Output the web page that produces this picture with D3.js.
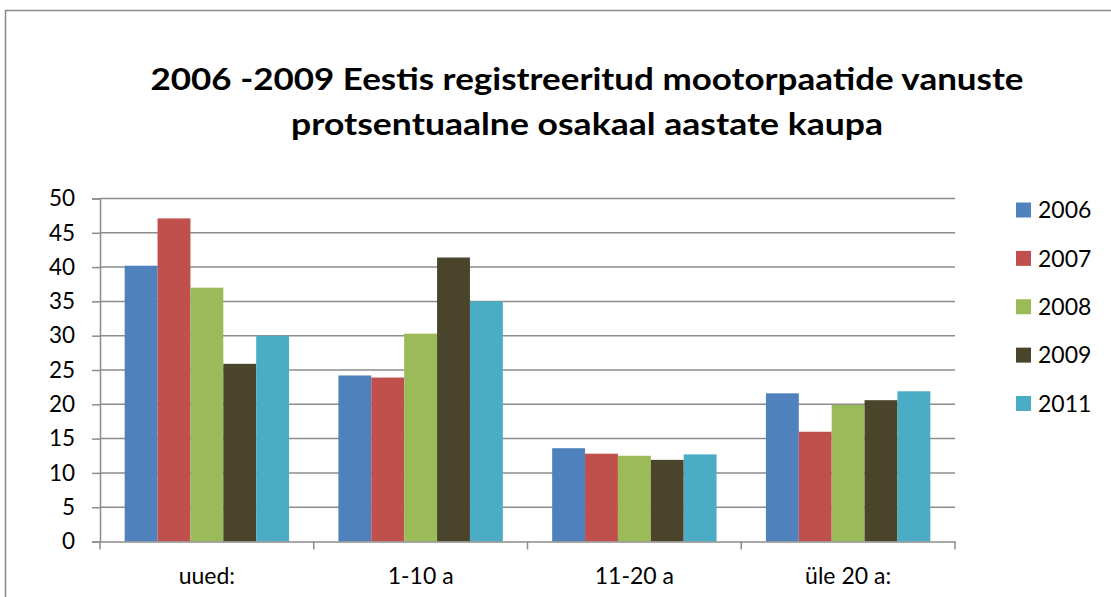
<!DOCTYPE html>
<html><head><meta charset="utf-8">
<script src="https://cdn.jsdelivr.net/npm/d3@7"></script>
<style>
html,body{margin:0;padding:0;background:#fff;}
svg{display:block;}
text{font-family:Lato,"Open Sans",sans-serif;fill:#000;}
</style></head>
<body>
<svg id="chart" width="1111" height="597"></svg>
<script>
const categories = ["uued:", "1-10 a", "11-20 a", "üle 20 a:"];
const seriesNames = ["2006", "2007", "2008", "2009", "2011"];
const values2006 = [40.2, 24.2, 13.6, 21.6];
const values2007 = [47.1, 23.9, 12.8, 16.0];
const values2008 = [37.0, 30.3, 12.5, 19.9];
const values2009 = [25.9, 41.4, 11.9, 20.6];
const values2011 = [30.0, 35.0, 12.7, 21.9];
const yTicks = [0, 5, 10, 15, 20, 25, 30, 35, 40, 45, 50];
const colors = ["#4F81BD", "#C0504D", "#9BBB59", "#4A452A", "#4BACC6"];
const titleLines = ["2006 -2009 Eestis registreeritud mootorpaatide vanuste", "protsentuaalne osakaal aastate kaupa"];

const seriesValues = [values2006, values2007, values2008, values2009, values2011];

const svg = d3.select("#chart");
const plotLeft = 100, plotRight = 955, plotTop = 198.5, plotBottom = 541.5;

// outer frame
svg.append("rect").attr("x", 5.5).attr("y", 10.5).attr("width", 1200).attr("height", 700)
  .attr("fill", "none").attr("stroke", "#888").attr("stroke-width", 1.5);

// title
svg.append("text").attr("x", 587).attr("y", 90).attr("text-anchor", "middle")
  .attr("font-size", 31).attr("font-weight", "bold")
  .attr("textLength", 873).attr("lengthAdjust", "spacingAndGlyphs").text(titleLines[0]);
svg.append("text").attr("x", 587).attr("y", 135).attr("text-anchor", "middle")
  .attr("font-size", 31).attr("font-weight", "bold")
  .attr("textLength", 592).attr("lengthAdjust", "spacingAndGlyphs").text(titleLines[1]);

const y = d3.scaleLinear().domain([0, 50]).range([plotBottom, plotTop]);
const x0 = d3.scaleBand().domain(categories).range([plotLeft, plotRight]).padding(0);
const gap = x0.bandwidth() * 1.5 / 6.5 / 2;
const x1 = d3.scaleBand().domain(seriesNames).range([gap, x0.bandwidth() - gap]).padding(0);

// gridlines
svg.append("g").selectAll("line").data(yTicks.filter(d => d > 0)).join("line")
  .attr("x1", plotLeft).attr("x2", plotRight)
  .attr("y1", d => y(d)).attr("y2", d => y(d))
  .attr("stroke", "#8c8c8c").attr("stroke-width", 1.5);

// bars
const g = svg.append("g");
categories.forEach((c, ci) => {
  seriesNames.forEach((s, si) => {
    g.append("rect")
      .attr("x", x0(c) + x1(s))
      .attr("y", y(seriesValues[si][ci]))
      .attr("width", x1.bandwidth())
      .attr("height", y(0) - y(seriesValues[si][ci]))
      .attr("fill", colors[si]);
  });
});

// y axis
const yAxis = d3.axisLeft(y).tickValues(yTicks).tickSize(8).tickPadding(17).tickFormat(d3.format("d"));
const ya = svg.append("g").attr("transform", `translate(${plotLeft},0)`).call(yAxis);
ya.selectAll("path,line").attr("stroke", "#8c8c8c").attr("stroke-width", 1.5);
ya.selectAll("text").attr("font-size", 22.5).attr("font-family", "Lato, sans-serif").attr("fill", "#000");

// x axis
const xAxis = d3.axisBottom(x0).tickSize(0).tickPadding(26);
const xa = svg.append("g").attr("transform", `translate(0,${plotBottom})`).call(xAxis);
xa.select(".domain").attr("stroke", "#8c8c8c").attr("stroke-width", 1.5);
xa.selectAll("text").attr("font-size", 23).attr("font-family", "Lato, sans-serif").attr("fill", "#000");
// category boundary ticks
const bounds = categories.map(c => x0(c)).concat([plotRight]);
xa.append("g").selectAll("line").data(bounds).join("line")
  .attr("x1", d => d).attr("x2", d => d).attr("y1", 0).attr("y2", 8)
  .attr("stroke", "#8c8c8c").attr("stroke-width", 1.5);

// legend
const ly = d3.scalePoint().domain(seriesNames).range([210, 403.5]);
const lg = svg.append("g");
seriesNames.forEach((s, i) => {
  lg.append("rect").attr("x", 1016).attr("y", ly(s) - 7.5).attr("width", 15).attr("height", 15).attr("fill", colors[i]);
  lg.append("text").attr("x", 1038).attr("y", ly(s)).attr("dy", "0.36em").attr("font-size", 23).text(s);
});
</script>
</body></html>
